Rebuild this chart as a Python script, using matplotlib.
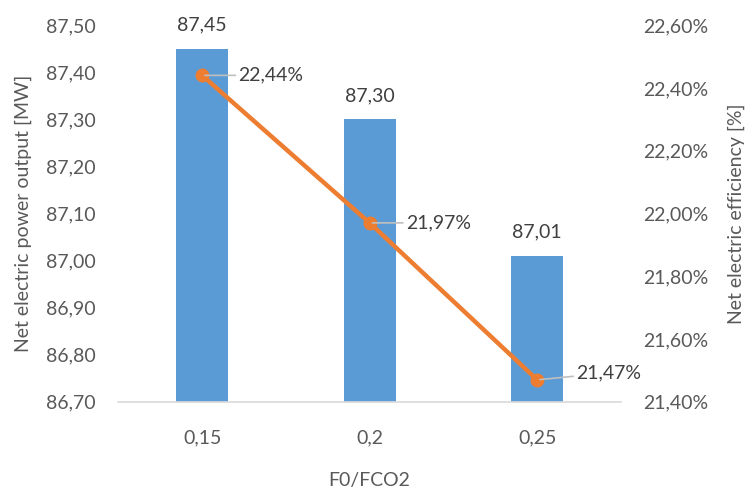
import matplotlib
matplotlib.use("Agg")
import matplotlib.pyplot as plt
from matplotlib.ticker import FuncFormatter

plt.rcParams['font.family'] = ['Lato', 'DejaVu Sans']

categories = ["0,15", "0,2", "0,25"]
power_mw = [87.45, 87.30, 87.01]
efficiency_pct = [22.44, 21.97, 21.47]
left_ticks = [86.70, 86.80, 86.90, 87.00, 87.10, 87.20, 87.30, 87.40, 87.50]
right_ticks = [21.40, 21.60, 21.80, 22.00, 22.20, 22.40, 22.60]

bar_color = "#5B9BD5"
line_color = "#ED7D31"
text_color = "#595959"
fs = 14

fig = plt.figure(figsize=(7.49, 4.93), dpi=100)
ax = fig.add_axes([0.158, 0.185, 0.671, 0.764])
ax2 = ax.twinx()

x = list(range(len(categories)))
ax.bar(x, power_mw, width=0.31, color=bar_color, zorder=2)
ax.set_xlim(-0.5, len(categories) - 0.5)
ax.set_ylim(left_ticks[0], left_ticks[-1])
ax.set_yticks(left_ticks)
ax.yaxis.set_major_formatter(FuncFormatter(lambda v, p: f"{v:.2f}".replace(".", ",")))
ax.set_xticks(x)
ax.set_xticklabels(categories)

for xi, v in zip(x, power_mw):
    ax.annotate(f"{v:.2f}".replace(".", ","), (xi, v), xytext=(0, 11),
                textcoords="offset points", ha="center", va="bottom",
                fontsize=fs, color="#404040")

ax2.plot(x, efficiency_pct, color=line_color, lw=3.2, marker="o", markersize=9,
         zorder=3)
ax2.set_ylim(right_ticks[0], right_ticks[-1])
ax2.set_yticks(right_ticks)
ax2.yaxis.set_major_formatter(FuncFormatter(lambda v, p: f"{v:.2f}%".replace(".", ",")))

label_offsets = [(26, 0), (26, 0), (28, 5)]
for xi, v, off in zip(x, efficiency_pct, label_offsets):
    ax2.annotate(f"{v:.2f}%".replace(".", ","), (xi, v), xytext=off,
                 textcoords="offset points", ha="left", va="center",
                 fontsize=fs, color="#404040",
                 arrowprops=dict(arrowstyle="-", color="#BFBFBF", lw=1.2,
                                 shrinkA=0, shrinkB=2))

for a in (ax, ax2):
    for s in a.spines.values():
        s.set_visible(False)
    a.tick_params(length=0, labelsize=fs, colors=text_color)
ax.spines['bottom'].set_visible(True)
ax.spines['bottom'].set_color("#D9D9D9")
ax.spines['bottom'].set_linewidth(1.2)
ax.tick_params(axis='x', pad=20)
ax.tick_params(axis='y', pad=16)
ax2.tick_params(axis='y', pad=16)

ax.set_xlabel("F0/FCO2", fontsize=fs, color=text_color, labelpad=18)
ax.set_ylabel("Net electric power output [MW]", fontsize=fs, color=text_color, labelpad=10)
ax2.set_ylabel("Net electric efficiency [%]", fontsize=fs, color=text_color, labelpad=14)

fig.savefig("out.png", dpi=100)
